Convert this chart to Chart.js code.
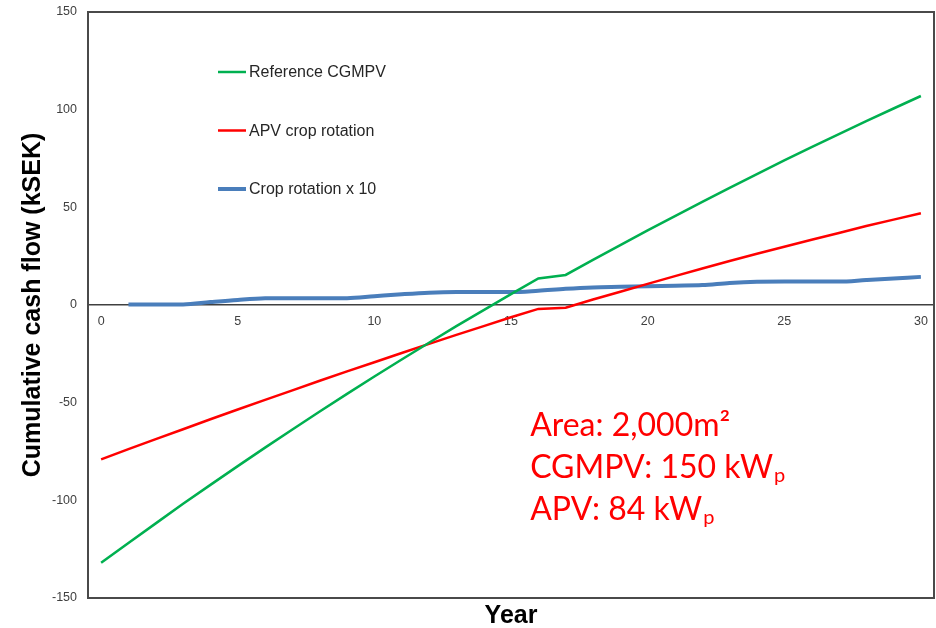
<!DOCTYPE html>
<html><head><meta charset="utf-8">
<script src="https://cdn.jsdelivr.net/npm/chart.js@4.4.1/dist/chart.umd.min.js"></script>
<style>html,body{margin:0;padding:0;background:#fff;}</style>
</head><body>
<canvas id="c" width="936" height="628"></canvas>
<script>
const years = [0,1,2,3,4,5,6,7,8,9,10,11,12,13,14,15,16,17,18,19,20,21,22,23,24,25,26,27,28,29,30];
const referenceCGMPV = [-132,-121.8,-111.8,-101.8,-92.1,-82.5,-73.0,-63.7,-54.5,-45.5,-36.6,-27.9,-19.3,-10.8,-2.6,5.6,13.6,15.4,23.1,30.7,38.2,45.5,52.8,60.0,67.0,74.0,80.8,87.5,94.1,100.6,107.0];
const apvCropRotation = [-79,-73.8,-68.7,-63.6,-58.5,-53.5,-48.6,-43.7,-38.8,-34.0,-29.3,-24.6,-19.9,-15.3,-10.8,-6.3,-2.0,-1.4,2.8,6.8,10.8,14.8,18.7,22.5,26.2,29.8,33.4,36.9,40.4,43.7,47.0];
const cropRotationX10 = [null,0.3,0.3,0.3,1.5,2.6,3.4,3.5,3.5,3.5,4.5,5.5,6.3,6.6,6.6,6.6,7.3,8.3,9.0,9.3,9.6,9.9,10.2,11.3,11.9,12.0,12.0,12.0,12.8,13.6,14.4];
const seriesLabels = ['Reference CGMPV','APV crop rotation','Crop rotation x 10'];
const seriesColors = ['#00b050','#ff0000','#4a7ebb'];
const yTickValues = [-150,-100,-50,0,50,100,150];
const xTickValues = [0,5,10,15,20,25,30];
const xTitle = 'Year';
const yTitle = 'Cumulative cash flow (kSEK)';
const noteLines = [['Area: 2,000m²',''],['CGMPV: 150 kW','p'],['APV: 84 kW','p']];

function pts(arr){ return years.map((x,i)=>({x:x,y:arr[i]})); }

const framePlugin = {
  id:'frame',
  beforeDatasetsDraw(chart){
    const {ctx, chartArea:a} = chart;
    ctx.save();
    ctx.strokeStyle = '#4a4a4a';
    ctx.lineWidth = 2;
    ctx.strokeRect(a.left, a.top, a.right-a.left, a.bottom-a.top);
    ctx.restore();
  }
};
const legendPlugin = {
  id:'inlegend',
  afterDraw(chart){
    const {ctx, chartArea:a} = chart;
    ctx.save();
    chart.data.datasets.forEach((ds,i)=>{
      const y = a.top + 60 + i*58.5;
      const x0 = a.left + 130;
      ctx.strokeStyle = ds.borderColor;
      ctx.lineWidth = ds.borderWidth;
      ctx.beginPath(); ctx.moveTo(x0,y); ctx.lineTo(x0+28,y); ctx.stroke();
      ctx.fillStyle = '#262626';
      ctx.font = '16px "Liberation Sans", Arial, sans-serif';
      ctx.textBaseline = 'middle';
      ctx.textAlign = 'left';
      ctx.fillText(ds.label, x0+31, y+1);
    });
    ctx.restore();
  }
};
const notePlugin = {
  id:'note',
  afterDraw(chart){
    const {ctx, scales} = chart;
    const x0 = scales.x.getPixelForValue(15.7);
    const y0 = scales.y.getPixelForValue(-67);
    ctx.save();
    ctx.fillStyle = '#ff0000';
    ctx.textBaseline = 'alphabetic';
    ctx.textAlign = 'left';
    noteLines.forEach((ln,i)=>{
      const y = y0 + i*42;
      ctx.font = '32px Lato, "Open Sans", sans-serif';
      ctx.fillText(ln[0], x0, y);
      if (ln[1]) {
        const w = ctx.measureText(ln[0]).width;
        ctx.font = '20px Lato, "Open Sans", sans-serif';
        ctx.fillText(ln[1], x0 + w + 1, y + 4);
      }
    });
    ctx.restore();
  }
};

const tickFont = {family:'"Liberation Sans", Arial, sans-serif', size:12.5};
const titleFont = {family:'"Liberation Sans", Arial, sans-serif', size:25, weight:'bold'};

new Chart(document.getElementById('c'), {
  type:'line',
  data:{
    datasets:[
      {label:seriesLabels[0], data:pts(referenceCGMPV), borderColor:seriesColors[0], backgroundColor:seriesColors[0], borderWidth:2.5, pointRadius:0, tension:0},
      {label:seriesLabels[1], data:pts(apvCropRotation), borderColor:seriesColors[1], backgroundColor:seriesColors[1], borderWidth:2.5, pointRadius:0, tension:0},
      {label:seriesLabels[2], data:pts(cropRotationX10), borderColor:seriesColors[2], backgroundColor:seriesColors[2], borderWidth:4, pointRadius:0, cubicInterpolationMode:'monotone'}
    ]
  },
  options:{
    responsive:false,
    animation:false,
    layout:{padding:{top:12,right:2,left:0,bottom:0}},
    plugins:{legend:{display:false}, tooltip:{enabled:false}},
    scales:{
      x:{
        type:'linear', min:-0.48, max:30.48,
        position:{y:0},
        afterFit(s){ s.height = 0; s.paddingLeft = 0; s.paddingRight = 0; s.paddingTop = 0; s.paddingBottom = 0; },
        grid:{display:false, drawTicks:false},
        border:{display:true, color:'#404040', width:1.5},
        afterBuildTicks(s){ s.ticks = xTickValues.map(v=>({value:v})); },
        ticks:{font:tickFont, color:'#404040', padding:9, maxRotation:0, autoSkip:false, includeBounds:false}
      },
      xTitle:{
        type:'linear', position:'bottom', min:0, max:1, axis:'x',
        grid:{display:false, drawTicks:false}, border:{display:false}, ticks:{display:false},
        title:{display:true, text:xTitle, font:titleFont, color:'#000', padding:{top:3,bottom:-3}}
      },
      y:{
        type:'linear', min:-150, max:150,
        afterFit(s){ s.width = 88; s.paddingTop = 0; s.paddingBottom = 0; },
        grid:{display:false, drawTicks:false},
        border:{display:false},
        afterBuildTicks(s){ s.ticks = yTickValues.map(v=>({value:v})); },
        ticks:{font:tickFont, color:'#404040', padding:11},
        title:{display:true, text:yTitle, font:titleFont, color:'#000', padding:{top:18,bottom:0}}
      }
    }
  },
  plugins:[framePlugin, legendPlugin, notePlugin]
});
</script>
</body></html>
